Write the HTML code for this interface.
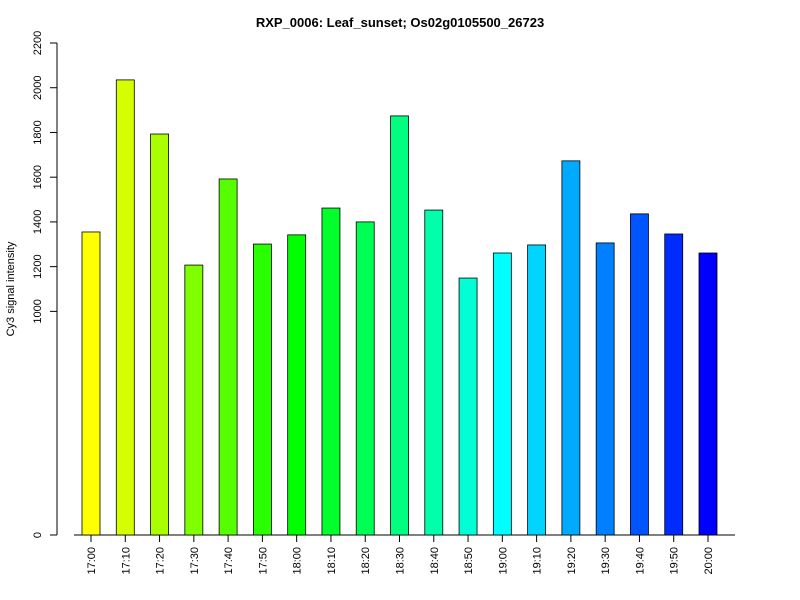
<!DOCTYPE html>
<html><head><meta charset="utf-8"><style>body{margin:0;background:#fff}svg{display:block}text{font-family:"Liberation Sans",Arial,sans-serif}</style></head>
<body>
<svg id="chart" width="800" height="600" xmlns="http://www.w3.org/2000/svg">
<text x="400" y="27" text-anchor="middle" font-size="13" font-weight="bold">RXP_0006: Leaf_sunset; Os02g0105500_26723</text>
<text transform="translate(14,289) rotate(-90)" text-anchor="middle" font-size="11">Cy3 signal intensity</text>
<g id="axes"></g><g id="bars"></g>
</svg>
<script>
const categories=["17:00","17:10","17:20","17:30","17:40","17:50","18:00","18:10","18:20","18:30","18:40","18:50","19:00","19:10","19:20","19:30","19:40","19:50","20:00"];
const values=[1355,2035,1793,1207,1592,1301,1342,1462,1400,1874,1453,1149,1261,1297,1673,1306,1436,1346,1261];
const yTicks=[0,1000,1200,1400,1600,1800,2000,2200];
const NS="http://www.w3.org/2000/svg";
const y0=535,yTop=43,yMax=2200;
function y(v){return y0-(v/yMax)*(y0-yTop);}
function x(i){return 91+i*(708-91)/(categories.length-1);}
function mk(t,a,p){const e=document.createElementNS(NS,t);for(const k in a)e.setAttribute(k,a[k]);p.appendChild(e);return e;}
const ax=document.getElementById('axes'),bg=document.getElementById('bars');
const yl=mk('line',{x1:57,x2:57,y1:y(0),y2:y(2200),stroke:'#000'},ax);


yTicks.forEach(t=>{
 const l=mk('line',{x1:50,x2:57,y1:y(t),y2:y(t),stroke:'#000'},ax);
 
 
 const tx=mk('text',{transform:`translate(41,${y(t)}) rotate(-90)`,'text-anchor':'middle','font-size':11},ax);
 tx.textContent=t;
 
 
});
const xl=mk('line',{x1:74,x2:735,y1:y0,y2:y0,stroke:'#000'},ax);


categories.forEach((c,i)=>{
 const cx=x(i),w=18;
 const r=mk('rect',{x:cx-w/2,y:y(values[i]),width:w,height:y0-y(values[i]),fill:`hsl(${60+i*10},100%,50%)`,stroke:'#000','stroke-width':0.8},bg);
 
 
 const tk=mk('line',{x1:cx,x2:cx,y1:y0,y2:y0+7,stroke:'#000'},ax);
 
 
 const tx=mk('text',{transform:`translate(${cx+4},${y0+12}) rotate(-90)`,'text-anchor':'end','font-size':11},ax);
 tx.textContent=c;
 
 
});
</script>
</body></html>
